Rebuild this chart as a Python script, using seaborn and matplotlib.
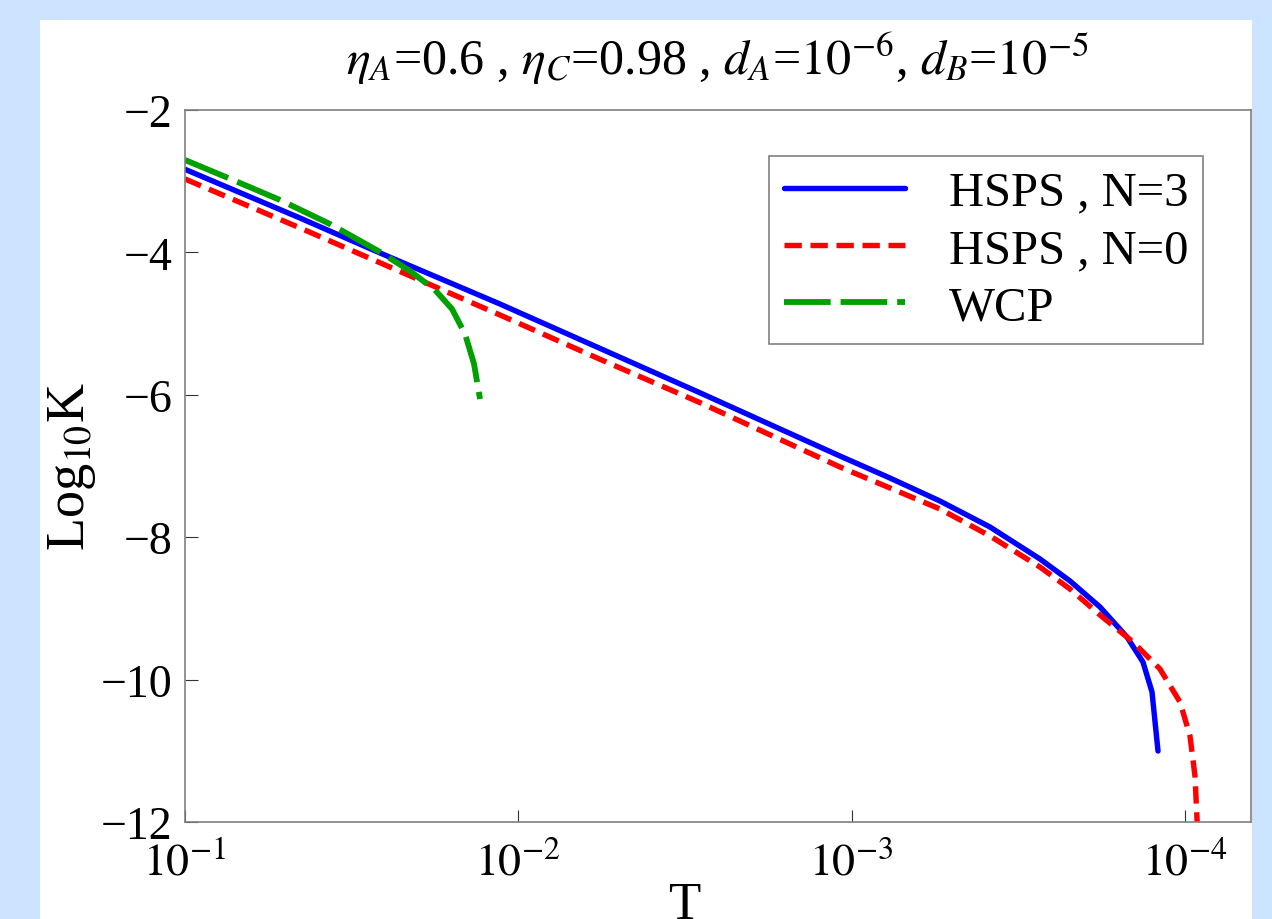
import numpy as np
import pandas as pd
import matplotlib
matplotlib.use("Agg")
import matplotlib.pyplot as plt
from matplotlib.patches import Rectangle
from matplotlib.ticker import FixedLocator, FixedFormatter, NullLocator
import seaborn as sns

# values
t_n3 = [0.1, 0.04519, 0.02600, 0.01135, 0.005689, 0.002851, 0.001084, 7.674e-4,
        5.433e-4, 3.846e-4, 2.723e-4, 2.213e-4, 1.799e-4, 1.493e-4, 1.337e-4,
        1.256e-4, 1.205e-4]
k_n3 = [-2.833, -3.517, -4.008, -4.725, -5.348, -5.972, -6.860, -7.169,
        -7.492, -7.857, -8.306, -8.615, -8.980, -9.402, -9.753, -10.174, -11.003]

t_n0 = [0.1, 0.04519, 0.01135, 0.005689, 0.002851, 0.001084, 7.674e-4, 5.433e-4,
        3.846e-4, 2.723e-4, 2.213e-4, 1.799e-4, 1.432e-4, 1.189e-4, 1.035e-4,
        9.661e-5, 9.333e-5, 9.173e-5]
k_n0 = [-2.969, -3.656, -4.879, -5.501, -6.110, -7.014, -7.309, -7.604,
        -7.983, -8.419, -8.728, -9.093, -9.472, -9.851, -10.315, -10.792,
        -11.354, -12.1]

t_wcp = [0.1, 0.07178, 0.05188, 0.03673, 0.02600, 0.02113, 0.01778, 0.01581,
         0.01445, 0.01358, 0.01303]
k_wcp = [-2.702, -2.983, -3.264, -3.601, -3.994, -4.261, -4.528, -4.795,
         -5.146, -5.567, -6.059]

x_ticks = [1e-1, 1e-2, 1e-3, 1e-4]
x_ticklabels = [r"$10^{-1}$", r"$10^{-2}$", r"$10^{-3}$", r"$10^{-4}$"]
y_ticks = [-2, -4, -6, -8, -10, -12]

sns.set_style("ticks")
plt.rcParams["font.family"] = ["Liberation Serif", "DejaVu Serif"]
plt.rcParams["mathtext.fontset"] = "stix"
plt.rcParams["text.color"] = "black"

W, H = 1272, 920
fig = plt.figure(figsize=(W / 100, H / 100), dpi=100, facecolor="#cce4ff")
fig.patches.append(Rectangle((40 / W, 0), (1252 - 40) / W, (H - 21) / H,
                             transform=fig.transFigure, facecolor="white",
                             edgecolor="none", zorder=-5))
ax = fig.add_axes([185 / W, 97 / H, 1066 / W, 712 / H])

sns.lineplot(x=t_n3, y=k_n3, ax=ax, color="#0000ff", lw=3.9, sort=False,
             label="HSPS , N=3")
sns.lineplot(x=t_n0, y=k_n0, ax=ax, color="#ff0000", lw=3.9, sort=False,
             linestyle=(0, (3.2, 1.6)), label="HSPS , N=0")
sns.lineplot(x=t_wcp, y=k_wcp, ax=ax, color="#00a000", lw=4.2, sort=False,
             linestyle=(0, (8.0, 1.7)), label="WCP")

ax.set_xscale("log")
ax.set_xlim(0.1, 10 ** -4.198)
ax.set_ylim(-12, -2)
ax.xaxis.set_major_locator(FixedLocator(x_ticks))
ax.xaxis.set_major_formatter(FixedFormatter(x_ticklabels))
ax.xaxis.set_minor_locator(NullLocator())
ax.set_yticks(y_ticks)
ax.set_yticklabels([str(v).replace("-", "\u2212") for v in y_ticks])

ax.tick_params(axis="both", direction="in", length=9, width=0.8,
               colors="#333333", labelcolor="black", labelsize=33)
ax.tick_params(axis="y", pad=9)
ax.tick_params(axis="x", pad=14)
for s in ax.spines.values():
    s.set_color("#808080")
    s.set_linewidth(1.2)

ax.set_title(r"$\eta_A$=0.6 , $\eta_C$=0.98 , $d_A$=$10^{-6}$, $d_B$=$10^{-5}$",
             fontsize=36, pad=26, color="black")
ax.set_ylabel(r"Log$_{10}$K", fontsize=39, labelpad=2, color="black")
ax.set_xlabel("T", fontsize=38, color="black")
ax.xaxis.set_label_coords(0.468, -0.083)

leg = ax.legend(loc="upper right", bbox_to_anchor=(0.955, 0.935), fontsize=35,
                frameon=True, fancybox=False, framealpha=1, handlelength=2.5,
                handletextpad=0.9, labelspacing=0.27, borderpad=0.3,
                borderaxespad=0)
leg.get_frame().set_edgecolor("#808080")
leg.get_frame().set_linewidth(1.2)
for txt in leg.get_texts():
    txt.set_color("black")

fig.savefig("out.png", dpi=100, facecolor=fig.get_facecolor())
